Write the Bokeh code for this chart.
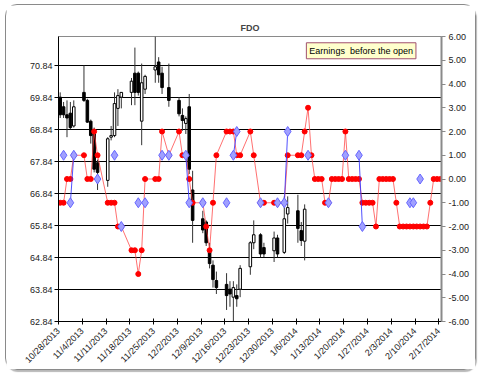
import math
import numpy as np
import pandas as pd
from bokeh.plotting import figure
from bokeh.models import Range1d, LinearAxis, FixedTicker, NumeralTickFormatter, Label, ColumnDataSource
from bokeh.embed import file_html
from bokeh.resources import INLINE

DAY = 86400000.0

# ---------------- data ----------------
candle_dates = ["2013-10-28", "2013-10-29", "2013-10-30", "2013-10-31", "2013-11-01",
                "2013-11-04", "2013-11-05", "2013-11-06", "2013-11-07", "2013-11-08",
                "2013-11-11", "2013-11-12", "2013-11-13", "2013-11-14", "2013-11-15",
                "2013-11-18", "2013-11-19", "2013-11-20", "2013-11-21", "2013-11-22",
                "2013-11-25", "2013-11-26", "2013-11-27", "2013-11-29",
                "2013-12-02", "2013-12-03", "2013-12-04", "2013-12-05", "2013-12-06",
                "2013-12-09", "2013-12-10", "2013-12-11", "2013-12-12", "2013-12-13",
                "2013-12-16", "2013-12-17", "2013-12-18", "2013-12-19", "2013-12-20",
                "2013-12-23", "2013-12-24", "2013-12-26", "2013-12-27",
                "2013-12-30", "2013-12-31", "2014-01-02", "2014-01-03",
                "2014-01-06", "2014-01-07", "2014-01-08"]
opens = [69.85, 69.55, 69.30, 69.35, 68.95,
         70.00, 69.75, 69.10, 68.80, 67.80,
         67.25, 68.60, 68.65, 69.50, 69.85,
         70.00, 70.60, 70.60, 69.10, 70.10,
         70.70, 70.95, 70.60, 70.15,
         69.75, 69.28, 69.03, 69.55, 66.95,
         66.05, 65.95, 65.10, 64.60, 64.12,
         64.00, 63.85, 63.60, 63.65, 63.85,
         64.55, 65.30, 65.55, 65.15,
         65.05, 65.45, 65.00, 66.20,
         66.30, 65.68, 65.35]
highs = [70.00, 69.70, 69.75, 69.70, 69.75,
         70.84, 69.80, 69.15, 68.90, 67.90,
         68.60, 68.95, 70.00, 70.10, 70.00,
         70.45, 71.40, 70.65, 70.90, 70.55,
         71.75, 71.10, 70.80, 70.90,
         69.85, 69.50, 69.25, 69.95, 67.55,
         66.30, 66.00, 65.30, 64.75, 64.40,
         64.35, 64.10, 64.10, 64.00, 64.60,
         65.35, 66.00, 65.60, 65.30,
         65.65, 65.55, 66.75, 66.75,
         66.80, 65.95, 66.50]
lows = [69.20, 69.20, 68.60, 68.85, 68.90,
        69.70, 69.05, 68.40, 67.50, 66.95,
        67.05, 68.50, 68.60, 68.95, 69.50,
        69.60, 69.60, 69.90, 68.35, 69.95,
        70.30, 70.30, 69.95, 69.55,
        69.25, 68.80, 68.70, 67.45, 65.30,
        65.60, 65.20, 64.50, 63.90, 63.70,
        63.20, 63.30, 62.84, 63.30, 63.60,
        64.30, 65.10, 64.85, 64.85,
        64.70, 64.85, 64.95, 65.90,
        65.30, 65.20, 64.75]
closes = [69.30, 69.30, 69.20, 68.90, 69.55,
          69.75, 69.07, 68.65, 67.60, 67.50,
          68.55, 68.65, 69.65, 69.90, 70.00,
          70.35, 70.00, 70.00, 70.30, 70.50,
          70.80, 70.55, 70.15, 69.75,
          69.33, 69.12, 69.18, 67.60, 66.00,
          65.70, 65.30, 64.65, 64.15, 63.90,
          63.65, 63.70, 63.90, 63.55, 64.50,
          65.30, 65.55, 64.95, 64.95,
          65.45, 64.95, 66.05, 66.40,
          65.75, 65.37, 66.35]

signal_dates = ["2013-10-28", "2013-10-29", "2013-10-30", "2013-10-31", "2013-11-01",
                "2013-11-04", "2013-11-05", "2013-11-06", "2013-11-07", "2013-11-08",
                "2013-11-11", "2013-11-12", "2013-11-13", "2013-11-14", "2013-11-15",
                "2013-11-18", "2013-11-19", "2013-11-20", "2013-11-21", "2013-11-22",
                "2013-11-25", "2013-11-26", "2013-11-27", "2013-11-29",
                "2013-12-02", "2013-12-03", "2013-12-04", "2013-12-05", "2013-12-06",
                "2013-12-09", "2013-12-10", "2013-12-11", "2013-12-12", "2013-12-13",
                "2013-12-16", "2013-12-17", "2013-12-18", "2013-12-19", "2013-12-20",
                "2013-12-23", "2013-12-24", "2013-12-26", "2013-12-27",
                "2013-12-30", "2013-12-31", "2014-01-02", "2014-01-03",
                "2014-01-06", "2014-01-07", "2014-01-08", "2014-01-09", "2014-01-10",
                "2014-01-11", "2014-01-12", "2014-01-13", "2014-01-14", "2014-01-15",
                "2014-01-16", "2014-01-17", "2014-01-18", "2014-01-19", "2014-01-20",
                "2014-01-21", "2014-01-22", "2014-01-23", "2014-01-24", "2014-01-25",
                "2014-01-26", "2014-01-27", "2014-01-28", "2014-01-29", "2014-01-30",
                "2014-01-31", "2014-02-01", "2014-02-02", "2014-02-03", "2014-02-04",
                "2014-02-05", "2014-02-06", "2014-02-07", "2014-02-08", "2014-02-09",
                "2014-02-10", "2014-02-11", "2014-02-12", "2014-02-13", "2014-02-14",
                "2014-02-15", "2014-02-16", "2014-02-17"]
red_values = [-1, -1, 0, 0, 1,
              1, 0, 0, 2, 1,
              -1, -1, -1, -2, -2,
              -3, -3, -4, -3, 0,
              0, 0, 2, 1,
              2, 1, 1, 0, -1,
              -1, -2, -3, -1, 1,
              2, 2, 2, 1, 1,
              2, 1, -1, -1,
              -1, -1, -1, 1,
              1, 1, 2, 3, 1,
              0, 0, 0, -1, -1,
              0, 0, 0, 0, 2,
              0, 0, 0, 0, -1,
              -1, -1, -1, -2, 0,
              0, 0, 0, 0, -1,
              -2, -2, -2, -2, -2,
              -2, -2, -2, -2, -1,
              0, 0, 0]

blue_dates = ["2013-10-29", "2013-10-31", "2013-11-01", "2013-11-08", "2013-11-13",
              "2013-11-15", "2013-11-20", "2013-11-22", "2013-11-27", "2013-11-29",
              "2013-12-04", "2013-12-05", "2013-12-09", "2013-12-16", "2013-12-18",
              "2013-12-19", "2013-12-26", "2013-12-31", "2014-01-02", "2014-01-03",
              "2014-01-09", "2014-01-15", "2014-01-20", "2014-01-24", "2014-01-25",
              "2014-02-08", "2014-02-09", "2014-02-11"]
blue_values = [1, -1, 1, 0, 1,
               -2, -1, -1, 1, 1,
               1, -1, -1, -1, 1,
               2, -1, -1, -1, 2,
               1, -1, 1, 1, -2,
               -1, -1, 0]

tick_dates = ["2013-10-28", "2013-11-04", "2013-11-11", "2013-11-18", "2013-11-25",
              "2013-12-02", "2013-12-09", "2013-12-16", "2013-12-23", "2013-12-30",
              "2014-01-06", "2014-01-13", "2014-01-20", "2014-01-27", "2014-02-03",
              "2014-02-10", "2014-02-17"]
tick_labels = ["10/28/2013", "11/4/2013", "11/11/2013", "11/18/2013", "11/25/2013",
               "12/2/2013", "12/9/2013", "12/16/2013", "12/23/2013", "12/30/2013",
               "1/6/2014", "1/13/2014", "1/20/2014", "1/27/2014", "2/3/2014",
               "2/10/2014", "2/17/2014"]
price_ticks = [62.84, 63.84, 64.84, 65.84, 66.84, 67.84, 68.84, 69.84, 70.84]
signal_ticks = [-6, -5, -4, -3, -2, -1, 0, 1, 2, 3, 4, 5, 6]

title_text = "FDO"
note_text = "Earnings\u00a0 before the open"
note_date = "2014-01-09"
note_price = 71.55


def to_ms(dates):
    return (pd.to_datetime(dates).astype("int64") // 10**6).to_numpy().astype(float)


FONT = "Liberation Sans"

# ---------------- sources ----------------
cx = to_ms(candle_dates) + DAY / 2
o = np.array(opens); c = np.array(closes)
up = c >= o
candles = ColumnDataSource(dict(
    x=cx, high=highs, low=lows,
    top=np.maximum(o, c), bottom=np.minimum(o, c),
    fill=["white" if u else "black" for u in up]))

sx = to_ms(signal_dates) + DAY / 2
blue_full = np.full(len(signal_dates), np.nan)
for d, v in zip(blue_dates, blue_values):
    blue_full[signal_dates.index(d)] = v
sig = ColumnDataSource(dict(x=sx, red=red_values, blue=blue_full))

x0 = to_ms(["2013-10-28"])[0]

p = figure(width=471, height=366, x_axis_type="datetime",
           x_range=Range1d(x0, x0 + 112.8 * DAY),
           y_range=Range1d(62.84, 62.84 + 285 / 32),
           output_backend="svg", toolbar_location=None,
           min_border_left=52, min_border_right=36, min_border_top=31, min_border_bottom=50)
p.margin = (4, 0, 0, 5)
p.styles = {"border": "1px solid #8a8a8a", "border-radius": "12px",
            "box-shadow": "1px 2px 1px #b8b8b8"}
p.background_fill_color = "white"
p.border_fill_color = "white"
p.outline_line_color = "#8a8a8a"

p.title.text = title_text
p.title.align = "center"
p.title.text_font = FONT
p.title.text_font_size = "9px"
p.title.text_font_style = "bold"
p.title.offset = -9
p.title.standoff = 8

p.extra_y_ranges = {"sig": Range1d(-6, 6)}

# axes
xa = p.xaxis[0]
tick_ms = list(to_ms(tick_dates))
xa.ticker = FixedTicker(ticks=tick_ms)
xa.major_label_overrides = {t: l for t, l in zip(tick_ms, tick_labels)}
xa.major_label_orientation = math.pi / 4
xa.major_tick_in = 3
xa.major_tick_out = 3
xa.minor_tick_line_color = None
xa.axis_line_color = "black"
xa.major_tick_line_color = "black"

ya = p.yaxis[0]
ya.ticker = FixedTicker(ticks=price_ticks)
ya.formatter = NumeralTickFormatter(format="0.00")
ya.major_tick_in = 0
ya.major_tick_out = 4
ya.minor_tick_line_color = None
ya.axis_line_color = "black"
ya.major_tick_line_color = "black"
ya.major_label_standoff = 2

ra = LinearAxis(y_range_name="sig", ticker=FixedTicker(ticks=signal_ticks),
                formatter=NumeralTickFormatter(format="0.00"))
ra.major_tick_in = 0
ra.major_tick_out = 4
ra.minor_tick_line_color = None
ra.axis_line_color = "#8a8a8a"
ra.axis_line_width = 2
ra.major_tick_line_color = "#8a8a8a"
ra.major_label_standoff = 3
p.add_layout(ra, "right")

for ax in (xa, ya, ra):
    ax.major_label_text_font = FONT
    ax.major_label_text_font_size = "9px"
    ax.major_label_text_color = "#222222"

p.xgrid.grid_line_color = None
p.ygrid.ticker = FixedTicker(ticks=price_ticks)
p.ygrid.grid_line_color = "black"
p.ygrid.grid_line_width = 1

# candles
p.segment(x0="x", y0="low", x1="x", y1="high", source=candles, line_color="#333333", line_width=1)
p.vbar(x="x", width=0.75 * DAY, top="top", bottom="bottom", source=candles,
       fill_color="fill", line_color="black", line_width=1)

# signal series
p.line("x", "red", source=sig, y_range_name="sig", line_color="#ff4040", line_alpha=0.75, line_width=1)
p.scatter("x", "red", source=sig, y_range_name="sig", marker="circle", size=5,
          fill_color="#ff0000", line_color="#ff0000")
p.line("x", "blue", source=sig, y_range_name="sig", line_color="#3333ff", line_alpha=0.85, line_width=1)
p.scatter("x", "blue", source=sig, y_range_name="sig", marker="diamond", size=10,
          fill_color="#a0a0ff", line_color="#6666ff", line_width=1)

note = Label(x=to_ms([note_date])[0], y=note_price, text=note_text,
             text_font=FONT, text_font_size="9px", text_color="black",
             text_align="left", text_baseline="top",
             background_fill_color="#ffffcc", border_line_color="#a0506e",
             border_line_width=1, padding=3)
p.add_layout(note)

open("out.html", "w").write(file_html(p, INLINE))
